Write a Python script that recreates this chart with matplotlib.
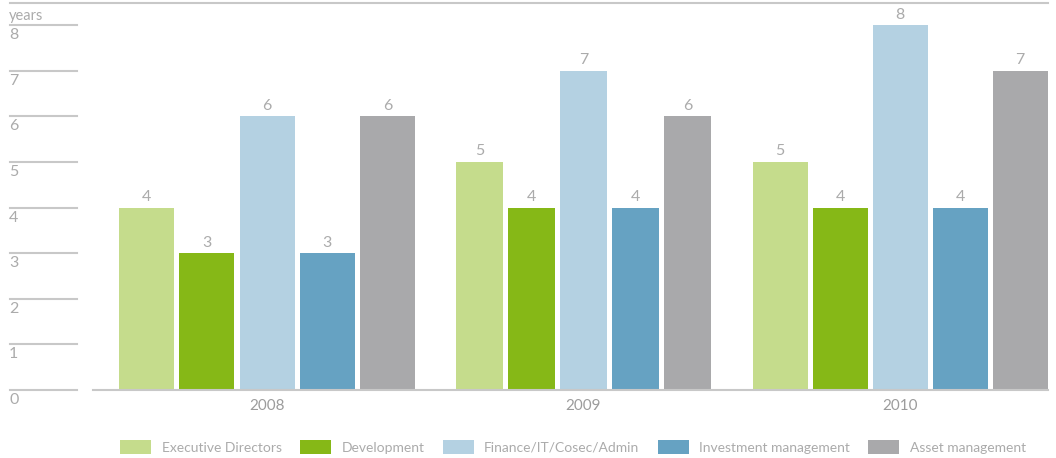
import matplotlib.pyplot as plt
from matplotlib.lines import Line2D
from matplotlib.patches import Patch
import numpy as np

years = ["2008", "2009", "2010"]
series = ["Executive Directors", "Development", "Finance/IT/Cosec/Admin",
          "Investment management", "Asset management"]
executive = [4, 5, 5]
development = [3, 4, 4]
finance = [6, 7, 8]
investment = [3, 4, 4]
asset = [6, 6, 7]
colors = ["#c5dc8c", "#86b817", "#b4d1e2", "#66a2c2", "#a9a9ab"]

GRID = "#c8c8c8"
TEXT = "#ababab"
plt.rcParams["font.family"] = ["Lato", "DejaVu Sans"]

W, H = 1056, 458
fig = plt.figure(figsize=(W / 100, H / 100), dpi=100)

base_px, top_px = 390, 3
px_per_year = 45.6
ax = fig.add_axes([93 / W, 1 - base_px / H, (1048 - 93) / W, (base_px - top_px) / H])
group_px = 316.5
ax.set_xlim((93 - 267) / group_px, (1048 - 267) / group_px)
ax.set_ylim(0, (base_px - top_px) / px_per_year)
ax.axis("off")

# the middle year is drawn with slightly narrower bars
pitch = [60.3, 52.0, 60.0]
width = [55.0, 47.0, 55.0]
values = [executive, development, finance, investment, asset]
for g in range(len(years)):
    for i, vals in enumerate(values):
        x = g + (i - 2) * pitch[g] / group_px
        ax.bar(x, vals[g], width=width[g] / group_px, color=colors[i], linewidth=0)
        ax.text(x, vals[g] + 0.08, str(vals[g]), ha="center", va="bottom",
                fontsize=11.5, color=TEXT)
    ax.text(g, -0.2, years[g], ha="center", va="top", fontsize=11, color="#9c9c9c")

ax.axhline(0, color=GRID, linewidth=1.5, clip_on=False)

# left-hand scale: short rules with the value just underneath
for v in range(0, 9):
    y = 1 - (base_px - v * px_per_year) / H
    fig.add_artist(Line2D([10 / W, 77 / W], [y, y], color=GRID, linewidth=1.5))
    fig.text(9 / W, y - 3 / H, str(v), ha="left", va="top", fontsize=11.5, color=TEXT)
y8 = 1 - (base_px - 8 * px_per_year) / H
fig.text(9 / W, y8 + 2 / H, "years", ha="left", va="bottom", fontsize=10.5, color=TEXT)
fig.add_artist(Line2D([10 / W, 1048 / W], [1 - 3 / H, 1 - 3 / H], color=GRID, linewidth=1.5))

handles = [Patch(facecolor=c, edgecolor="none") for c in colors]
leg = fig.legend(handles, series, loc="center", bbox_to_anchor=(573 / W, 1 - 447 / H),
                 ncol=5, frameon=False, fontsize=10, handlelength=2.25, handleheight=1.15,
                 handletextpad=0.75, columnspacing=1.3, borderpad=0)
for t in leg.get_texts():
    t.set_color(TEXT)

fig.savefig("out.png", dpi=100)
